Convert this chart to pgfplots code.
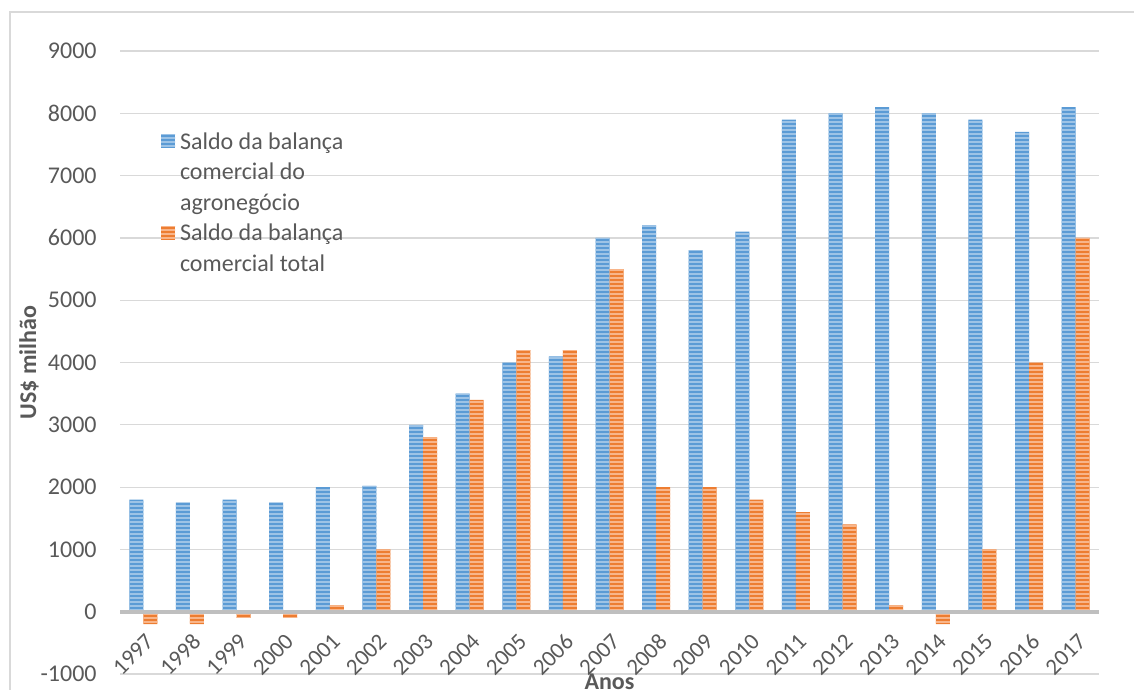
\documentclass[border=0pt]{standalone}
\usepackage{fontspec}
\setmainfont{Carlito}
\usepackage{pgfplots}
\pgfplotsset{compat=1.18}
\usetikzlibrary{patterns.meta}
\definecolor{bblue}{HTML}{5B9BD5}
\definecolor{bbluel}{HTML}{9DC3E6}
\definecolor{oor}{HTML}{ED7D31}
\definecolor{oorl}{HTML}{F8B58A}
\definecolor{gridc}{HTML}{D9D9D9}
\definecolor{zeroc}{HTML}{BFBFBF}
\definecolor{txt}{HTML}{595959}
\begin{document}
\begin{tikzpicture}
\useasboundingbox (0,0) rectangle (567pt,345pt);
\clip (0,0) rectangle (567pt,345pt);
\draw[gridc, line width=0.8pt] (5pt,-5pt) -- (5pt,339pt) -- (580pt,339pt);
\begin{axis}[
  at={(60pt,8pt)}, anchor=south west,
  scale only axis, width=489.5pt, height=311.5pt,
  xmin=-0.5, xmax=20.5, ymin=-1000, ymax=9000,
  axis line style={draw=none},
  ytick={-1000,0,1000,2000,3000,4000,5000,6000,7000,8000,9000},
  ymajorgrids, grid style={gridc, line width=0.6pt},
  major tick length=0pt,
  xtick={0,...,20},
  xticklabels={1997,1998,1999,2000,2001,2002,2003,2004,2005,2006,2007,2008,2009,2010,2011,2012,2013,2014,2015,2016,2017},
  /pgf/number format/assume math mode=true,
  /pgf/number format/1000 sep={},
  tick label style={font=\fontsize{12}{14}\selectfont, text=txt},
  xticklabel style={font=\fontsize{11.5}{14}\selectfont, inner sep=0pt, xshift=0.5pt, yshift=21pt, rotate=45, anchor=north east},
  yticklabel style={inner sep=0pt, xshift=-11.5pt},
  ylabel={US\$ milhão},
  ylabel style={at={(axis description cs:-0.093,0.5)}, anchor=center, font=\bfseries\fontsize{12}{14}\selectfont, text=txt, inner sep=0pt},
  xlabel={Anos},
  xlabel style={at={(axis description cs:0.5,0)}, anchor=north, font=\bfseries\fontsize{12}{14}\selectfont, text=txt, inner sep=0pt},
  bar width=7pt,
  legend style={at={(rel axis cs:0.0419,0.8796)}, anchor=north west, draw=none, fill=none,
    inner sep=0pt, outer sep=0pt, row sep=0pt, column sep=2.5pt,
    font=\fontsize{12}{15.3}\selectfont, text=txt,
    nodes={inner sep=0pt, text height=11.5pt, text depth=3.8pt},
    cells={anchor=west}},
  legend image code/.code={\fill[#1, draw=none] (0pt,-3.5pt) rectangle (7pt,3.5pt);},
]
\addplot[ybar, bar shift=-3.5pt, fill=bblue, draw=none, postaction={pattern={Lines[angle=0,distance=2pt,line width=0.8pt]}, pattern color=bbluel}] coordinates {
(0,1800) (1,1750) (2,1800) (3,1750) (4,2000) (5,2020) (6,3000) (7,3500) (8,4000) (9,4100) (10,6000)
(11,6200) (12,5800) (13,6100) (14,7900) (15,8000) (16,8100) (17,8000) (18,7900) (19,7700) (20,8100)};
\addlegendentry{Saldo da balança}
\addlegendimage{empty legend}
\addlegendentry{comercial do}
\addlegendimage{empty legend}
\addlegendentry{agronegócio}
\addplot[ybar, bar shift=3.5pt, fill=oor, draw=none, postaction={pattern={Lines[angle=0,distance=2pt,line width=0.8pt]}, pattern color=oorl}] coordinates {
(0,-200) (1,-200) (2,-100) (3,-100) (4,100) (5,1000) (6,2800) (7,3400) (8,4200) (9,4200) (10,5500)
(11,2000) (12,2000) (13,1800) (14,1600) (15,1400) (16,100) (17,-200) (18,1000) (19,4000) (20,6000)};
\addlegendentry{Saldo da balança}
\addlegendimage{empty legend}
\addlegendentry{comercial total}
\draw[zeroc, line width=2pt] (axis cs:-0.5,0) -- (axis cs:20.5,0);
\end{axis}
\end{tikzpicture}
\end{document}
